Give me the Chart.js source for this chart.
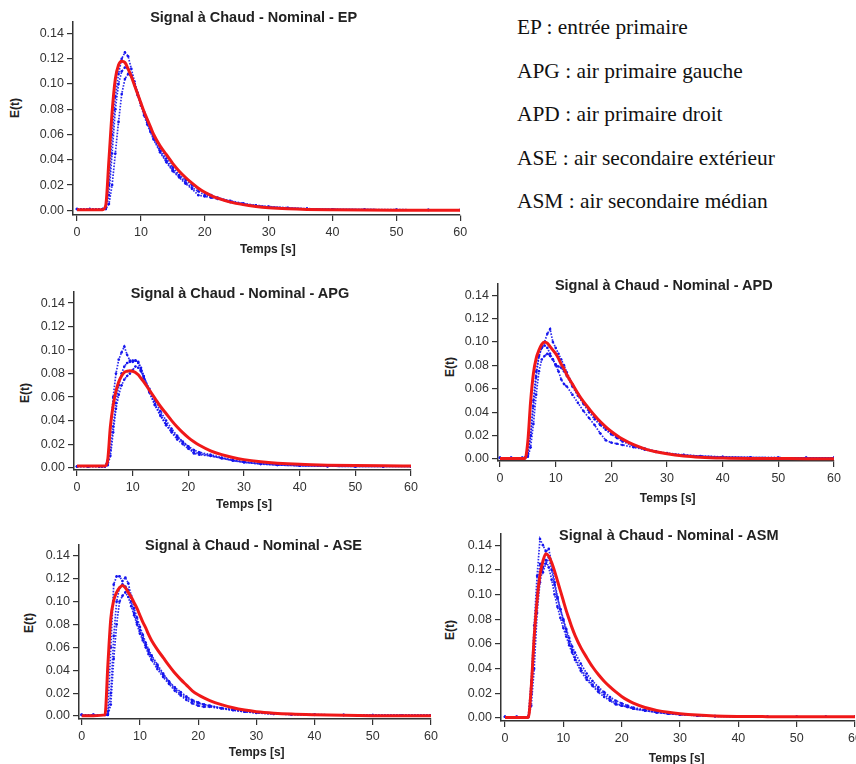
<!DOCTYPE html>
<html><head><meta charset="utf-8">
<script src="https://cdn.jsdelivr.net/npm/chart.js@4.4.1/dist/chart.umd.min.js"></script>
<style>
html,body{margin:0;padding:0;background:#fff;width:856px;height:764px;overflow:hidden;position:relative;}
canvas{position:absolute;}
.t{position:absolute;font-family:'Liberation Sans',Arial,sans-serif;font-weight:bold;color:#222;white-space:nowrap;transform:translate(-50%,-50%);}
.ttl{font-size:14.5px;}
.ax{font-size:12px;}
.yl{transform:translate(-50%,-50%) rotate(-90deg);}
#leg{position:absolute;left:517px;top:6px;font-family:'Liberation Serif','Times New Roman',serif;font-size:21.4px;line-height:43.6px;color:#111;white-space:nowrap;}
</style></head><body>
<div id="leg"></div>
<script>
// ---- data ----
const tGrid = [0,2,4,4.5,5,5.5,6,6.5,7,7.5,8,8.5,9,9.5,10,10.5,11,11.5,12,13,14,15,16,17,18,19,20,21,22,24,26,28,30,33,36,40,45,50,55,60];
const xTicks = [0,10,20,30,40,50,60];
const yTicks = [0,0.02,0.04,0.06,0.08,0.10,0.12,0.14];
const panelNames = ['EP','APG','APD','ASE','ASM'];
const titlePrefix = 'Signal à Chaud - Nominal - ';
const xTitle = 'Temps [s]';
const yTitle = 'E(t)';
const legendLines = ['EP : entrée primaire','APG : air primaire gauche','APD : air primaire droit','ASE : air secondaire extérieur','ASM : air secondaire médian'];

const epRed   = [0.0005,0.0005,0.0005, 0.004,0.040,0.078,0.104,0.115,0.118,0.117,0.112,0.106,0.099,0.092,0.085,0.078,0.072,0.066,0.060, 0.051,0.044,0.037,0.031,0.026,0.0215,0.0175,0.0143,0.0117,0.0096, 0.0065,0.0045,0.0031,0.0021,0.0012,0.0007,0.0004,0.0002,0.0001,0.0001,0.0001];
const epBlue1 = [0.001,0.001,0.001, 0.002,0.020,0.060,0.090,0.108,0.120,0.125,0.122,0.112,0.102,0.093,0.085,0.077,0.070,0.063,0.057, 0.047,0.039,0.032,0.027,0.022,0.018,0.015,0.012,0.011,0.010, 0.007,0.005,0.0035,0.0025,0.0016,0.001,0.0007,0.0005,0.0004,0.0003,0.0003];
const epBlue2 = [0.001,0.001,0.001, 0.001,0.012,0.045,0.080,0.100,0.110,0.113,0.112,0.107,0.100,0.092,0.085,0.078,0.071,0.065,0.059, 0.049,0.041,0.034,0.028,0.024,0.020,0.017,0.014,0.012,0.010, 0.0075,0.0055,0.004,0.003,0.002,0.0013,0.0008,0.0006,0.0005,0.0004,0.0004];
const epBlue3 = [0.001,0.001,0.001, 0.001,0.005,0.020,0.045,0.070,0.092,0.104,0.108,0.106,0.099,0.091,0.083,0.075,0.068,0.062,0.056, 0.046,0.038,0.031,0.026,0.021,0.017,0.012,0.011,0.010,0.009, 0.0065,0.0048,0.0035,0.0026,0.0017,0.0011,0.0007,0.0005,0.0004,0.0003,0.0003];

const apgRed   = [0.0014,0.0014,0.0014, 0.0014,0.0014,0.006,0.035,0.053,0.065,0.073,0.078,0.081,0.082,0.0825,0.082,0.081,0.079,0.076,0.073, 0.066,0.059,0.052,0.046,0.040,0.0345,0.0297,0.0255,0.022,0.019, 0.0143,0.011,0.0086,0.0068,0.005,0.0038,0.0028,0.0021,0.0017,0.0015,0.0014];
const apgBlue1 = [0.001,0.001,0.001, 0.001,0.001,0.006,0.030,0.060,0.080,0.092,0.098,0.103,0.096,0.091,0.090,0.091,0.089,0.083,0.076, 0.064,0.053,0.044,0.036,0.030,0.024,0.020,0.016,0.013,0.012, 0.010,0.008,0.006,0.0045,0.0032,0.0022,0.0016,0.0012,0.001,0.001,0.001];
const apgBlue2 = [0.001,0.001,0.001, 0.001,0.001,0.003,0.015,0.035,0.055,0.070,0.080,0.086,0.089,0.090,0.091,0.091,0.090,0.085,0.078, 0.065,0.054,0.045,0.037,0.031,0.026,0.022,0.018,0.015,0.013, 0.011,0.0085,0.0065,0.005,0.0035,0.0025,0.0018,0.0013,0.0011,0.001,0.001];
const apgBlue3 = [0.001,0.001,0.001, 0.001,0.001,0.002,0.010,0.030,0.050,0.062,0.070,0.075,0.078,0.080,0.083,0.086,0.085,0.082,0.077, 0.067,0.057,0.048,0.040,0.033,0.027,0.022,0.018,0.012,0.011, 0.010,0.008,0.006,0.0045,0.003,0.0022,0.0016,0.0012,0.001,0.001,0.001];

const apdRed   = [0.0005,0.0005,0.0005, 0.0005,0.015,0.049,0.073,0.086,0.093,0.098,0.100,0.099,0.096,0.093,0.090,0.086,0.081,0.077,0.072, 0.064,0.056,0.049,0.043,0.0372,0.032,0.0275,0.0235,0.020,0.017, 0.0122,0.0087,0.0062,0.0044,0.0026,0.0016,0.0009,0.0005,0.0004,0.0003,0.0003];
const apdBlue1 = [0.001,0.001,0.001, 0.001,0.005,0.020,0.050,0.075,0.088,0.095,0.100,0.107,0.111,0.100,0.095,0.090,0.085,0.080,0.074, 0.064,0.056,0.048,0.042,0.036,0.031,0.026,0.022,0.019,0.016, 0.012,0.009,0.0065,0.005,0.0035,0.0025,0.0018,0.0013,0.0011,0.001,0.001];
const apdBlue2 = [0.001,0.001,0.001, 0.001,0.003,0.020,0.045,0.070,0.088,0.095,0.097,0.095,0.090,0.085,0.081,0.079,0.078,0.075,0.071, 0.062,0.054,0.047,0.040,0.034,0.029,0.025,0.021,0.018,0.015, 0.011,0.0085,0.0062,0.0047,0.0033,0.0024,0.0017,0.0013,0.0011,0.001,0.001];
const apdBlue3 = [0.001,0.001,0.001, 0.001,0.002,0.010,0.030,0.055,0.075,0.085,0.088,0.090,0.088,0.085,0.080,0.075,0.068,0.064,0.062, 0.055,0.048,0.041,0.035,0.029,0.022,0.016,0.014,0.013,0.012, 0.010,0.008,0.006,0.0045,0.0032,0.0023,0.0016,0.0012,0.001,0.001,0.001];

const aseRed   = [0.0003,0.0003,0.001, 0.045,0.085,0.101,0.108,0.112,0.114,0.112,0.108,0.104,0.099,0.094,0.088,0.082,0.077,0.071,0.066, 0.058,0.051,0.044,0.0375,0.032,0.027,0.022,0.0185,0.0158,0.0135, 0.0100,0.0072,0.0052,0.0038,0.0025,0.0017,0.0011,0.0006,0.0003,0.0002,0.0002];
const aseBlue1 = [0.001,0.001,0.001, 0.004,0.060,0.115,0.122,0.122,0.118,0.121,0.116,0.105,0.094,0.086,0.078,0.071,0.064,0.058,0.053, 0.045,0.037,0.030,0.025,0.021,0.017,0.014,0.012,0.010,0.009, 0.007,0.0055,0.004,0.003,0.002,0.0016,0.0012,0.001,0.0008,0.0007,0.0007];
const aseBlue2 = [0.001,0.001,0.001, 0.001,0.020,0.070,0.100,0.112,0.115,0.113,0.110,0.100,0.090,0.082,0.075,0.068,0.062,0.056,0.052, 0.043,0.036,0.030,0.024,0.019,0.016,0.013,0.011,0.010,0.009, 0.0068,0.0052,0.0038,0.0028,0.0019,0.0014,0.0011,0.0009,0.0008,0.0007,0.0007];
const aseBlue3 = [0.001,0.001,0.001, 0.001,0.010,0.050,0.080,0.100,0.105,0.108,0.104,0.096,0.088,0.080,0.072,0.066,0.060,0.054,0.049, 0.041,0.034,0.028,0.022,0.018,0.014,0.011,0.009,0.008,0.008, 0.0065,0.005,0.0037,0.0027,0.0018,0.0013,0.001,0.0008,0.0007,0.0006,0.0006];

const asmRed   = [0.0005,0.0005,0.0005, 0.025,0.065,0.095,0.116,0.127,0.133,0.131,0.126,0.119,0.111,0.103,0.095,0.087,0.080,0.073,0.067, 0.057,0.049,0.0415,0.0352,0.0298,0.0252,0.0211,0.0175,0.0145,0.012, 0.0085,0.0062,0.0046,0.0035,0.0024,0.0017,0.0013,0.0011,0.001,0.001,0.001];
const asmBlue1 = [0.001,0.001,0.001, 0.030,0.075,0.115,0.145,0.140,0.135,0.137,0.125,0.110,0.098,0.088,0.079,0.070,0.062,0.055,0.049, 0.040,0.033,0.027,0.023,0.019,0.015,0.012,0.010,0.009,0.0075, 0.006,0.0045,0.0035,0.0028,0.002,0.0015,0.0012,0.001,0.001,0.001,0.001];
const asmBlue2 = [0.001,0.001,0.001, 0.020,0.060,0.100,0.125,0.118,0.125,0.130,0.120,0.108,0.097,0.088,0.080,0.072,0.065,0.058,0.053, 0.044,0.036,0.030,0.025,0.021,0.017,0.014,0.012,0.010,0.0085, 0.0065,0.005,0.0038,0.003,0.0021,0.0016,0.0012,0.001,0.001,0.001,0.001];
const asmBlue3 = [0.001,0.001,0.001, 0.010,0.040,0.085,0.110,0.122,0.128,0.122,0.112,0.100,0.090,0.081,0.073,0.066,0.059,0.053,0.047, 0.038,0.031,0.026,0.021,0.017,0.014,0.011,0.010,0.009,0.0075, 0.006,0.0045,0.0034,0.0027,0.0019,0.0014,0.0011,0.001,0.001,0.001,0.001];

// ---- layout (page pixels) ----
const panels = [
  {name:'EP',  red:epRed,  blues:[epBlue1,epBlue2,epBlue3],    L:72.7, R:460,   T:20.7,  B:214.3, x0:76.7,  x60:460,   y0:210,   y14:32.7,
   title:[253.7,16.7], xt:[267.8,249.3], yt:[15,108.3]},
  {name:'APG', red:apgRed, blues:[apgBlue1,apgBlue2,apgBlue3], L:74,   R:411,   T:290.7, B:470,   x0:77,    x60:411,   y0:467.3, y14:302.3,
   title:[240,292.7],  xt:[244,504.3],   yt:[25,393.3]},
  {name:'APD', red:apdRed, blues:[apdBlue1,apdBlue2,apdBlue3], L:498.3,R:834.3, T:283.3, B:461.7, x0:500.3, x60:834.3, y0:459.3, y14:295,
   title:[663.8,285],  xt:[667.7,497.7], yt:[450,366.7]},
  {name:'ASE', red:aseRed, blues:[aseBlue1,aseBlue2,aseBlue3], L:79,   R:431,   T:544,   B:719,   x0:81.7,  x60:431,   y0:716,   y14:555.3,
   title:[253.5,545],  xt:[256.7,752.3], yt:[29.3,623.3]},
  {name:'ASM', red:asmRed, blues:[asmBlue1,asmBlue2,asmBlue3], L:501,  R:855,   T:533.3, B:721,   x0:505,   x60:855,   y0:718.3, y14:545,
   title:[668.8,535],  xt:[676.7,758.3], yt:[450,630]}
];

const FONT = "'Liberation Sans', Arial, sans-serif";
const AXC = '#333';

function addText(cls, txt, xy){
  const d=document.createElement('div');
  d.className='t '+cls; d.textContent=txt;
  d.style.left=xy[0]+'px'; d.style.top=xy[1]+'px';
  document.body.appendChild(d);
}

function build(p){
  const yW=40, padT=10, padR=12, xH=30;
  const cw=Math.round(p.R-p.L), ch=Math.round(p.B-p.T);
  const cv=document.createElement('canvas');
  cv.width=cw+yW+padR; cv.height=ch+padT+xH;
  cv.style.left=(p.L-yW)+'px'; cv.style.top=(p.T-padT)+'px';
  cv.style.width=cv.width+'px'; cv.style.height=cv.height+'px';
  document.body.appendChild(cv);
  const xs=60/(p.x60-p.x0), ys=0.14/(p.y0-p.y14);
  const xMin=(p.L-p.x0)*xs, xMax=(p.L+cw-p.x0)*xs;
  const yMax=(p.y0-p.T)*ys, yMin=(p.y0-(p.T+ch))*ys;
  const pts=a=>tGrid.map((t,i)=>({x:t,y:a[i]}));
  const ds=[{data:pts(p.red),showLine:true,borderColor:'#f01818',borderWidth:3,pointRadius:0,
             cubicInterpolationMode:'monotone',order:0}];
  p.blues.forEach((b,k)=>ds.push({data:pts(b),showLine:true,borderColor:'rgba(20,20,235,0.9)',borderWidth:1.7,
      borderDash:[1.6,1.4],pointRadius:1.3,pointBackgroundColor:'#1515f0',pointBorderWidth:0,tension:0,order:k+1}));
  new Chart(cv,{type:'scatter',data:{datasets:ds},options:{
    responsive:false,animation:false,devicePixelRatio:1,events:[],
    layout:{padding:{left:0,top:padT,right:padR,bottom:0}},
    plugins:{legend:{display:false},tooltip:{enabled:false},title:{display:false}},
    scales:{
      x:{type:'linear',min:xMin,max:xMax,afterFit:s=>{s.height=xH;},
         afterBuildTicks:s=>{s.ticks=xTicks.map(v=>({value:v}));},
         ticks:{padding:4,color:AXC,font:{family:FONT,size:12.5},maxRotation:0,autoSkip:false,callback:v=>String(v)},
         grid:{drawOnChartArea:false,drawTicks:true,tickLength:6,color:AXC,lineWidth:1.2},
         border:{display:true,color:AXC,width:1.5}},
      y:{type:'linear',min:yMin,max:yMax,afterFit:s=>{s.width=yW;},
         afterBuildTicks:s=>{s.ticks=yTicks.map(v=>({value:v}));},
         ticks:{padding:3,color:AXC,font:{family:FONT,size:12.5},autoSkip:false,callback:v=>v.toFixed(2)},
         grid:{drawOnChartArea:false,drawTicks:true,tickLength:6,color:AXC,lineWidth:1.2},
         border:{display:true,color:AXC,width:1.5}}
    }}});
  addText('ttl', titlePrefix+p.name, p.title);
  addText('ax', xTitle, p.xt);
  addText('ax yl', yTitle, p.yt);
}
panels.forEach(build);
document.getElementById('leg').innerHTML=legendLines.map(s=>'<div>'+s+'</div>').join('');
</script>
</body></html>
